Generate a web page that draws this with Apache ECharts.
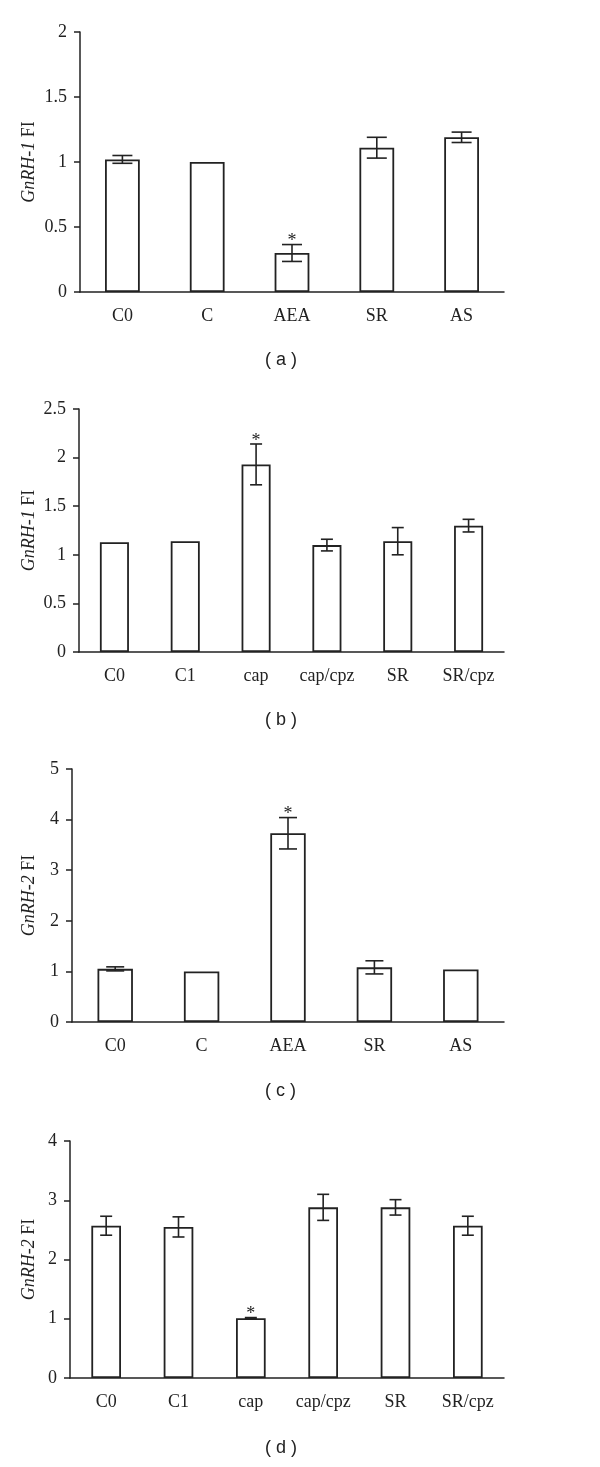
<!DOCTYPE html>
<html>
<head>
<meta charset="utf-8">
<script src="https://cdn.jsdelivr.net/npm/echarts@6/dist/echarts.min.js"></script>
<style>
  html, body { margin: 0; padding: 0; background: #fff; }
  #chart { width: 600px; height: 1467px; }
</style>
</head>
<body>
<div id="chart"></div>
<script>
// panel (a) GnRH-1, AEA experiment
const catsA = ['C0', 'C', 'AEA', 'SR', 'AS']
const valsA = [1.02, 1.0, 0.30, 1.11, 1.19]
const errsA = [0.03, 0, 0.065, 0.08, 0.04]
const starA = [0, 0, 1, 0, 0]

// panel (b) GnRH-1, capsaicin experiment
const catsB = ['C0', 'C1', 'cap', 'cap/cpz', 'SR', 'SR/cpz']
const valsB = [1.13, 1.14, 1.93, 1.10, 1.14, 1.30]
const errsB = [0, 0, 0.21, 0.06, 0.14, 0.065]
const starB = [0, 0, 1, 0, 0, 0]

// panel (c) GnRH-2, AEA experiment
const catsC = ['C0', 'C', 'AEA', 'SR', 'AS']
const valsC = [1.05, 1.0, 3.73, 1.08, 1.04]
const errsC = [0.04, 0, 0.31, 0.13, 0]
const starC = [0, 0, 1, 0, 0]

// panel (d) GnRH-2, capsaicin experiment
const catsD = ['C0', 'C1', 'cap', 'cap/cpz', 'SR', 'SR/cpz']
const valsD = [2.57, 2.55, 1.01, 2.88, 2.88, 2.57]
const errsD = [0.16, 0.17, 0.01, 0.22, 0.13, 0.16]
const starD = [0, 0, 1, 0, 0, 0]

const yMax = [2, 2.5, 5, 4]
const yStep = [0.5, 0.5, 1, 1]
const yNames = ['GnRH-1', 'GnRH-1', 'GnRH-2', 'GnRH-2']
const panelTags = ['( a )', '( b )', '( c )', '( d )']

const ink = '#222'
const serif = '"Liberation Serif", "DejaVu Serif", serif'

const panels = [
  { cats: catsA, vals: valsA, errs: errsA, stars: starA, cap: 10 },
  { cats: catsB, vals: valsB, errs: errsB, stars: starB, cap: 6 },
  { cats: catsC, vals: valsC, errs: errsC, stars: starC, cap: 9 },
  { cats: catsD, vals: valsD, errs: errsD, stars: starD, cap: 6 },
]

const grids = [
  { left: 80, top: 32, width: 424, height: 260 },
  { left: 79, top: 409, width: 425, height: 243 },
  { left: 72, top: 769, width: 432, height: 253 },
  { left: 70, top: 1141, width: 434, height: 237 },
]
const nameGaps = [42, 41, 34, 32]
const tagY = [362, 722, 1093, 1450]

const errRender = (capHalf) => (params, api) => {
  const x = api.value(0)
  const v = api.value(1)
  const e = api.value(2)
  const s = api.value(3)
  const top = api.coord([x, v + e])
  const bot = api.coord([x, v - e])
  const children = []
  const st = { stroke: ink, lineWidth: 1.6 }
  if (e > 0) {
    children.push({ type: 'line', shape: { x1: top[0], y1: top[1], x2: bot[0], y2: bot[1] }, style: st })
    children.push({ type: 'line', shape: { x1: top[0] - capHalf, y1: top[1], x2: top[0] + capHalf, y2: top[1] }, style: st })
    children.push({ type: 'line', shape: { x1: bot[0] - capHalf, y1: bot[1], x2: bot[0] + capHalf, y2: bot[1] }, style: st })
  }
  if (s) {
    children.push({
      type: 'text',
      style: { x: top[0], y: top[1] - 3, text: '*', fill: ink, font: '18px ' + serif, align: 'center', verticalAlign: 'middle' },
    })
  }
  return { type: 'group', children }
}

const xAxes = []
const yAxes = []
const series = []
const graphics = []

panels.forEach((p, i) => {
  xAxes.push({
    type: 'category',
    gridIndex: i,
    data: p.cats,
    axisLine: { lineStyle: { color: ink, width: 1.5 } },
    axisTick: { length: 7, lineStyle: { color: ink, width: 1.5 } },
    axisLabel: { color: ink, fontFamily: serif, fontSize: 18, margin: 15, interval: 0, hideOverlap: false },
  })
  yAxes.push({
    type: 'value',
    gridIndex: i,
    min: 0,
    max: yMax[i],
    interval: yStep[i],
    name: '{i|' + yNames[i] + '} FI',
    nameLocation: 'middle',
    nameRotate: 90,
    nameGap: nameGaps[i],
    nameMoveOverlap: false,
    nameTextStyle: {
      color: ink,
      fontFamily: serif,
      fontSize: 18,
      rich: { i: { fontStyle: 'italic', fontFamily: serif, fontSize: 18, color: ink } },
    },
    axisLine: { show: true, lineStyle: { color: ink, width: 1.5 } },
    axisTick: { show: true, length: 6, lineStyle: { color: ink, width: 1.5 } },
    axisLabel: { color: ink, fontFamily: serif, fontSize: 18, margin: 13 },
    splitLine: { show: false },
  })
  series.push({
    type: 'bar',
    xAxisIndex: i,
    yAxisIndex: i,
    data: p.vals,
    barWidth: '41%',
    itemStyle: { color: '#fff', borderColor: ink, borderWidth: 1.8 },
    silent: true,
    z: 2,
  })
  series.push({
    type: 'custom',
    xAxisIndex: i,
    yAxisIndex: i,
    renderItem: errRender(p.cap),
    encode: { x: 0, y: 1 },
    data: p.cats.map((c, k) => [k, p.vals[k], p.errs[k], p.stars[k]]),
    silent: true,
    z: 3,
  })
  graphics.push({
    type: 'text',
    left: 281 - 16,
    top: tagY[i] - 11,
    style: { text: panelTags[i], fill: ink, font: '18px "Liberation Sans", Arial, sans-serif' },
  })
})

const chart = echarts.init(document.getElementById('chart'), null, { renderer: 'canvas' })
chart.setOption({
  animation: false,
  backgroundColor: '#fff',
  grid: grids,
  xAxis: xAxes,
  yAxis: yAxes,
  series: series,
  graphic: graphics,
})
</script>
</body>
</html>
